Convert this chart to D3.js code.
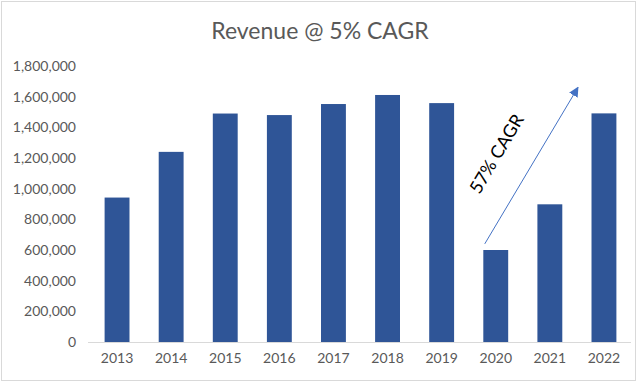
<!DOCTYPE html>
<html>
<head>
<meta charset="utf-8">
<script src="https://cdn.jsdelivr.net/npm/d3@7"></script>
<style>
	body { margin: 0; background: #fff; }
	text { font-family: Lato, "Open Sans", sans-serif; }
</style>
</head>
<body>
<div id="chart"></div>
<script>
//Data
var years = ["2013","2014","2015","2016","2017","2018","2019","2020","2021","2022"];
var revenue = [942000, 1240000, 1490000, 1480000, 1552000, 1611000, 1558000, 600000, 898000, 1491000];
var yTicks = [0, 200000, 400000, 600000, 800000, 1000000, 1200000, 1400000, 1600000, 1800000];
var titleText = "Revenue @ 5% CAGR";
var arrowLabel = "57% CAGR";
var arrowFrom = {year: "2020", value: 640000},
	arrowTo = {year: "2022", value: 1660000};

///////////////////////////////////////////////////////////////////////////
//////////////////// Set up and initiate svg containers ///////////////////
///////////////////////////////////////////////////////////////////////////

var width = 640, height = 384;
var margin = {top: 66, right: 9, bottom: 42, left: 90};

var svg = d3.select("#chart").append("svg")
	.attr("width", width)
	.attr("height", height);

//Chart frame
svg.append("rect")
	.attr("x", 1.5).attr("y", 1.5)
	.attr("width", 634).attr("height", 379)
	.style("fill", "#fff")
	.style("stroke", "#d9d9d9");

var x = d3.scaleBand()
	.domain(years)
	.range([margin.left, width - margin.right])
	.paddingInner(0.54)
	.paddingOuter(0.27);

var y = d3.scaleLinear()
	.domain([0, 1800000])
	.range([height - margin.bottom, margin.top]);

//Title
svg.append("text")
	.attr("x", 320)
	.attr("y", 39)
	.attr("text-anchor", "middle")
	.style("font-size", "23px")
	.style("fill", "#595959")
	.text(titleText);

//Y axis labels
var yAxis = svg.append("g")
	.attr("transform", "translate(" + (margin.left - 14) + ",0)")
	.call(d3.axisLeft(y).tickValues(yTicks).tickSize(0).tickFormat(d3.format(",")));
yAxis.select(".domain").remove();
yAxis.selectAll("text")
	.attr("x", 0)
	.style("font-family", "Lato, 'Open Sans', sans-serif")
	.style("font-size", "14px")
	.style("fill", "#595959");

//Bars
svg.selectAll(".bar")
	.data(years)
	.enter().append("rect")
	.attr("class", "bar")
	.attr("x", function(d) { return x(d); })
	.attr("width", x.bandwidth())
	.attr("y", function(d,i) { return y(revenue[i]); })
	.attr("height", function(d,i) { return y(0) - y(revenue[i]); })
	.style("fill", "#2f5597");

//Baseline and x labels
var xAxis = svg.append("g")
	.attr("transform", "translate(0," + y(0) + ")")
	.call(d3.axisBottom(x).tickSize(0).tickPadding(11));
xAxis.select(".domain")
	.attr("d", "M" + (margin.left - 2) + ",0.5H" + (width - margin.right))
	.style("stroke", "#d9d9d9");
xAxis.selectAll("text")
	.style("font-family", "Lato, 'Open Sans', sans-serif")
	.style("font-size", "14px")
	.style("fill", "#595959");

///////////////////////////////////////////////////////////////////////////
/////////////////////////////// Annotation ////////////////////////////////
///////////////////////////////////////////////////////////////////////////

svg.append("defs").append("marker")
	.attr("id", "arrowHead")
	.attr("viewBox", "0 0 10 10")
	.attr("refX", 9).attr("refY", 5)
	.attr("markerWidth", 10).attr("markerHeight", 10)
	.attr("markerUnits", "userSpaceOnUse")
	.attr("orient", "auto")
	.append("path")
	.attr("d", "M0,0L10,5L0,10z")
	.style("fill", "#4472c4");

var ax1 = x(arrowFrom.year) + x.bandwidth()/2 - 11,
	ay1 = y(arrowFrom.value),
	ax2 = x(arrowTo.year) + x.bandwidth()/2 - 26,
	ay2 = y(arrowTo.value);

svg.append("line")
	.attr("x1", ax1).attr("y1", ay1)
	.attr("x2", ax2).attr("y2", ay2)
	.attr("marker-end", "url(#arrowHead)")
	.style("stroke", "#4472c4")
	.style("stroke-width", 1);

var angle = Math.atan2(ay2 - ay1, ax2 - ax1) * 180 / Math.PI;
svg.append("text")
	.attr("transform", "translate(" + 502 + "," + 157 + ") rotate(" + angle + ")")
	.attr("text-anchor", "middle")
	.style("font-size", "18px")
	.style("fill", "#000")
	.text(arrowLabel);
</script>
</body>
</html>
